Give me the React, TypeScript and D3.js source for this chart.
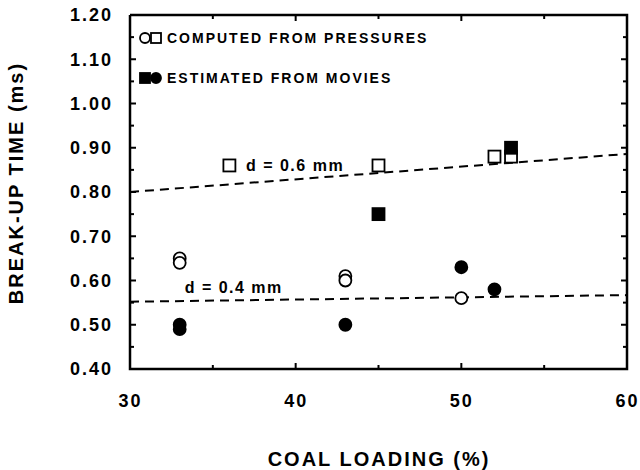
import React from "react";
import * as d3 from "d3";

// coal loading (%) vs break-up time (ms)
const openCircleX = [33, 33, 43, 43, 50];
const openCircleY = [0.65, 0.64, 0.61, 0.6, 0.56];
const filledCircleX = [33, 33, 43, 50, 52];
const filledCircleY = [0.5, 0.49, 0.5, 0.63, 0.58];
const openSquareX = [36, 45, 52, 53];
const openSquareY = [0.86, 0.86, 0.88, 0.88];
const filledSquareX = [45, 53];
const filledSquareY = [0.75, 0.9];

// dashed fit lines
const fitX = [30, 60];
const fit06 = [0.8, 0.886];
const fit04 = [0.552, 0.567];

const xTicks = [30, 40, 50, 60];
const yTicks = [0.4, 0.5, 0.6, 0.7, 0.8, 0.9, 1.0, 1.1, 1.2];
const legendLabels = ["COMPUTED FROM PRESSURES", "ESTIMATED FROM MOVIES"];

const FONT = "'Liberation Sans', Arial, Helvetica, sans-serif";

const App = () => {
  const svg = React.useRef<SVGSVGElement>(null);

  React.useEffect(() => {
    d3.select(svg.current).selectAll("*").remove();
    drawChart(svg);
  }, [svg]);

  return (
    <div>
      <svg
        ref={svg}
        width={640}
        height={470}
        style={{ position: "absolute", left: 0, top: 0, background: "#fff" }}
      />
    </div>
  );
};

function drawChart(svgRef: React.RefObject<SVGSVGElement | null>) {
  const w = 640;
  const h = 470;
  const left = 130;
  const right = 627;
  const top = 15;
  const bottom = 369;

  const xScale = d3.scaleLinear().domain([30, 60]).range([left, right]);
  const yScale = d3.scaleLinear().domain([0.4, 1.2]).range([bottom, top]);

  const svg = d3.select(svgRef.current).attr("width", w).attr("height", h);

  // minor ticks every 5 / 0.05
  const xMinor = d3.range(30, 60.01, 5);
  const yMinor = d3.range(0.4, 1.2001, 0.05);

  const g = svg.append("g").attr("font-family", FONT).attr("font-weight", "bold");

  // frame ticks (inward)
  const tickG = g.append("g").attr("stroke", "#000").attr("stroke-width", 2);
  yMinor.forEach((v, i) => {
    const len = i % 2 === 0 ? 6 : 4;
    tickG.append("line").attr("x1", left).attr("x2", left + len)
      .attr("y1", yScale(v)).attr("y2", yScale(v));
    tickG.append("line").attr("x1", right).attr("x2", right - len)
      .attr("y1", yScale(v)).attr("y2", yScale(v));
  });
  xMinor.forEach((v, i) => {
    const len = i % 2 === 0 ? 6 : 4;
    tickG.append("line").attr("x1", xScale(v)).attr("x2", xScale(v))
      .attr("y1", bottom).attr("y2", bottom - len);
    tickG.append("line").attr("x1", xScale(v)).attr("x2", xScale(v))
      .attr("y1", top).attr("y2", top + len);
  });

  // axes for labels
  const yAxis = d3.axisLeft(yScale).tickValues(yTicks).tickSize(0).tickPadding(17)
    .tickFormat((d) => d3.format(".2f")(d as number));
  const yG = g.append("g").attr("transform", "translate(" + left + ",0)").call(yAxis);
  yG.select(".domain").remove();
  yG.selectAll("text").attr("font-size", 18).attr("font-family", FONT)
    .attr("font-weight", "bold").attr("letter-spacing", 2).attr("fill", "#000");

  const xAxis = d3.axisBottom(xScale).tickValues(xTicks).tickSize(0).tickPadding(25)
    .tickFormat((d) => String(d));
  const xG = g.append("g").attr("transform", "translate(0," + bottom + ")").call(xAxis);
  xG.select(".domain").remove();
  xG.selectAll("text").attr("font-size", 18).attr("font-family", FONT)
    .attr("font-weight", "bold").attr("letter-spacing", 2).attr("fill", "#000");

  // frame
  g.append("path")
    .attr("d", "M" + left + "," + top + "V" + bottom + "H" + right + "V" + top + "H" + left)
    .attr("fill", "none").attr("stroke", "#000").attr("stroke-width", 2.5);

  // fit lines
  const line = d3.line<number>()
    .x((d, i) => xScale(fitX[i]))
    .y((d) => yScale(d));
  [fit06, fit04].forEach((fit) => {
    g.append("path").datum(fit)
      .attr("d", line)
      .attr("fill", "none").attr("stroke", "#000").attr("stroke-width", 2)
      .attr("stroke-dasharray", "9,6");
  });

  // fit labels
  g.append("text").attr("x", xScale(37)).attr("y", yScale(0.847))
    .attr("font-size", 16).attr("letter-spacing", 1.5).text("d = 0.6 mm");
  g.append("text").attr("x", xScale(33.3)).attr("y", yScale(0.572))
    .attr("font-size", 16).attr("letter-spacing", 1.5).text("d = 0.4 mm");

  const circle = (x: number, y: number, filled: boolean, r = 6) =>
    g.append("circle").attr("cx", x).attr("cy", y).attr("r", r)
      .attr("fill", filled ? "#000" : "#fff").attr("stroke", "#000").attr("stroke-width", 1.8);
  const square = (x: number, y: number, filled: boolean, s = 12) =>
    g.append("rect").attr("x", x - s / 2).attr("y", y - s / 2).attr("width", s).attr("height", s)
      .attr("fill", filled ? "#000" : "#fff").attr("stroke", "#000").attr("stroke-width", 1.8);

  openSquareX.forEach((x, i) => square(xScale(x), yScale(openSquareY[i]), false));
  filledSquareX.forEach((x, i) => square(xScale(x), yScale(filledSquareY[i]), true));
  openCircleX.forEach((x, i) => circle(xScale(x), yScale(openCircleY[i]), false));
  filledCircleX.forEach((x, i) => circle(xScale(x), yScale(filledCircleY[i]), true));

  // legend
  const lx = left + 15;
  const ly = [38, 78];
  circle(lx, ly[0], false, 5);
  square(lx + 11, ly[0], false, 10);
  square(lx, ly[1], true, 10);
  circle(lx + 11, ly[1], true, 5);
  legendLabels.forEach((t, i) => {
    g.append("text").attr("x", lx + 22).attr("y", ly[i] + 5)
      .attr("font-size", 14).attr("letter-spacing", 2).text(t);
  });

  // axis titles
  g.append("text")
    .attr("transform", "translate(23,183) rotate(-90)")
    .attr("text-anchor", "middle").attr("font-size", 20).attr("letter-spacing", 2)
    .text("BREAK-UP TIME (ms)");
  g.append("text")
    .attr("x", 379).attr("y", 466)
    .attr("text-anchor", "middle").attr("font-size", 20).attr("letter-spacing", 2)
    .text("COAL LOADING (%)");
}

export default App;
